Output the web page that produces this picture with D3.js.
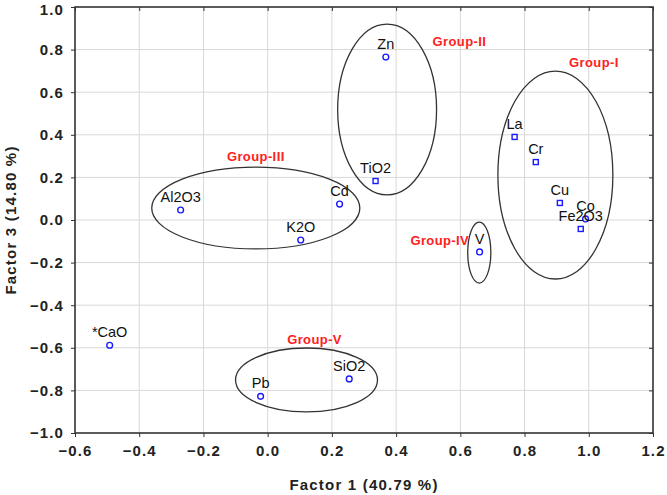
<!DOCTYPE html>
<html>
<head>
<meta charset="utf-8">
<script src="https://cdn.jsdelivr.net/npm/d3@7"></script>
<style>
  html, body { margin: 0; padding: 0; background: #fff; }
  svg { display: block; font-family: "Liberation Sans", Arial, sans-serif; }
</style>
</head>
<body>
<svg id="chart" width="667" height="495"></svg>
<script>
// ---- data ----
const labels  = ["Zn", "TiO2", "Cd", "Al2O3", "K2O", "La", "Cr", "Cu", "Co", "Fe2O3", "V", "*CaO", "Pb", "SiO2"];
const factor1 = [0.368, 0.336, 0.224, -0.271, 0.103, 0.769, 0.835, 0.910, 0.990, 0.975, 0.660, -0.492, -0.022, 0.254];
const factor3 = [0.765, 0.183, 0.075, 0.047, -0.094, 0.390, 0.272, 0.080, 0.005, -0.042, -0.150, -0.588, -0.828, -0.746];
const shapes  = ["circle", "square", "circle", "circle", "circle", "square", "square", "square", "circle", "square", "circle", "circle", "circle", "circle"];

const groupNames = ["Group-I", "Group-II", "Group-III", "Group-IV", "Group-V"];
const groupCx    = [0.896, 0.372, -0.037, 0.659, 0.121];
const groupCy    = [0.211, 0.519, 0.056, -0.153, -0.751];
const groupRx    = [0.179, 0.154, 0.324, 0.036, 0.221];
const groupRy    = [0.488, 0.401, 0.192, 0.143, 0.150];
const groupLabX  = [1.016, 0.597, -0.037, 0.536, 0.146];
const groupLabY  = [0.742, 0.836, 0.300, -0.094, -0.563];

const xTicks = [-0.6, -0.4, -0.2, 0.0, 0.2, 0.4, 0.6, 0.8, 1.0, 1.2];
const yTicks = [-1.0, -0.8, -0.6, -0.4, -0.2, 0.0, 0.2, 0.4, 0.6, 0.8, 1.0];
const xTitle = "Factor 1 (40.79 %)";
const yTitle = "Factor 3 (14.80 %)";

// ---- layout ----
const svg = d3.select("#chart");
const L = 75, R = 653, T = 7, B = 433;
const x = d3.scaleLinear().domain([-0.6, 1.2]).range([L, R]);
const y = d3.scaleLinear().domain([-1.0, 1.0]).range([B, T]);
const fmt = d3.format(".1f");

// grid
const grid = svg.append("g");
grid.selectAll("line.gx").data(xTicks.slice(1, -1)).join("line")
  .attr("x1", d => x(d)).attr("x2", d => x(d)).attr("y1", T).attr("y2", B)
  .attr("stroke", "#d8d8d8").attr("stroke-width", 1);
grid.selectAll("line.gy").data(yTicks.slice(1, -1)).join("line")
  .attr("y1", d => y(d)).attr("y2", d => y(d)).attr("x1", L).attr("x2", R)
  .attr("stroke", "#d8d8d8").attr("stroke-width", 1);

// axes
const axB = svg.append("g").attr("transform", `translate(0,${B})`)
  .call(d3.axisBottom(x).tickValues(xTicks).tickFormat(fmt).tickSize(4).tickPadding(8));
const axL = svg.append("g").attr("transform", `translate(${L},0)`)
  .call(d3.axisLeft(y).tickValues(yTicks).tickFormat(fmt).tickSize(4).tickPadding(7));
const axT = svg.append("g").attr("transform", `translate(0,${T})`)
  .call(d3.axisBottom(x).tickValues(xTicks).tickFormat("").tickSize(4));
const axR = svg.append("g").attr("transform", `translate(${R},0)`)
  .call(d3.axisLeft(y).tickValues(yTicks).tickFormat("").tickSize(4));
[axB, axL, axT, axR].forEach(a => {
  a.select(".domain").remove();
  a.selectAll(".tick line").attr("stroke", "#333");
  a.selectAll("text").attr("font-family", "Liberation Sans, Arial, sans-serif")
    .attr("font-size", 15).attr("font-weight", "bold").attr("letter-spacing", 1.1).attr("fill", "#222");
});
// keep the topmost y label inside the picture
axL.selectAll(".tick text").filter(d => d === 1.0).attr("dy", "0.5em");

// frame
svg.append("rect").attr("x", L).attr("y", T).attr("width", R - L).attr("height", B - T)
  .attr("fill", "none").attr("stroke", "#333").attr("stroke-width", 1.6);

// ellipses
svg.append("g").selectAll("ellipse").data(groupNames).join("ellipse")
  .attr("cx", (d, i) => x(groupCx[i])).attr("cy", (d, i) => y(groupCy[i]))
  .attr("rx", (d, i) => x(groupRx[i]) - x(0)).attr("ry", (d, i) => y(0) - y(groupRy[i]))
  .attr("fill", "none").attr("stroke", "#333").attr("stroke-width", 1.3);

// group labels
svg.append("g").selectAll("text").data(groupNames).join("text")
  .attr("x", (d, i) => x(groupLabX[i])).attr("y", (d, i) => y(groupLabY[i]))
  .attr("dy", "0.35em").attr("text-anchor", "middle")
  .attr("font-size", 13).attr("font-weight", "bold").attr("letter-spacing", 0.4).attr("fill", "#ff2020")
  .text(d => d);

// points
const pts = svg.append("g");
labels.forEach((lab, i) => {
  const cx = x(factor1[i]), cy = y(factor3[i]);
  if (shapes[i] === "square") {
    pts.append("rect").attr("x", cx - 2.5).attr("y", cy - 2.5).attr("width", 5).attr("height", 5)
      .attr("fill", "none").attr("stroke", "#1a1aff").attr("stroke-width", 1.4);
  } else {
    pts.append("circle").attr("cx", cx).attr("cy", cy).attr("r", 2.9)
      .attr("fill", "none").attr("stroke", "#1a1aff").attr("stroke-width", 1.4);
  }
});

// point labels
svg.append("g").selectAll("text").data(labels).join("text")
  .attr("x", (d, i) => x(factor1[i])).attr("y", (d, i) => y(factor3[i]) - 8)
  .attr("text-anchor", "middle").attr("font-size", 14.5).attr("fill", "#111")
  .text(d => d);

// axis titles
svg.append("text").attr("x", (L + R) / 2).attr("y", 485).attr("dy", "0.35em")
  .attr("text-anchor", "middle").attr("font-size", 15).attr("font-weight", "bold")
  .attr("letter-spacing", 1.2).attr("fill", "#222")
  .text(xTitle);
svg.append("text").attr("transform", `translate(11,${(T + B) / 2}) rotate(-90)`).attr("dy", "0.35em")
  .attr("text-anchor", "middle").attr("font-size", 15).attr("font-weight", "bold")
  .attr("letter-spacing", 1.2).attr("fill", "#222")
  .text(yTitle);
</script>
</body>
</html>
